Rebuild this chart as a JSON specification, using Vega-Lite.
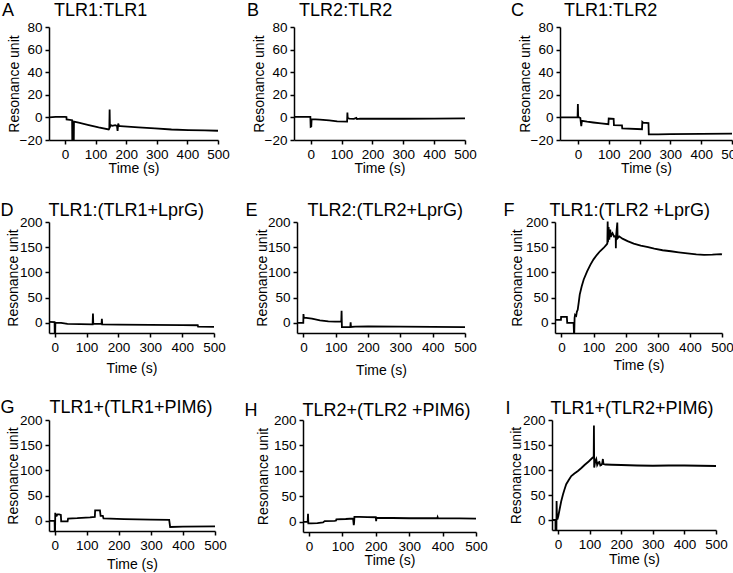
{
  "$schema": "https://vega.github.io/schema/vega-lite/v6.json",
  "padding": {"left": 0, "top": 2, "right": 0, "bottom": 0},
  "background": "white",
  "datasets": {
    "A": [{"t":-52,"v":0},{"t":-30,"v":0.5},{"t":0,"v":0.5},{"t":5,"v":0.3},{"t":5.5,"v":-1.8},{"t":23.5,"v":-2.5},{"t":24,"v":-20},{"t":29,"v":-20},{"t":29.5,"v":-3.8},{"t":45,"v":-4.7},{"t":78,"v":-6.8},{"t":110,"v":-8.9},{"t":143,"v":-10.7},{"t":145,"v":-10},{"t":146,"v":7},{"t":147,"v":-9},{"t":149,"v":-6.8},{"t":155,"v":-7.5},{"t":164,"v":-6.8},{"t":170,"v":-7.5},{"t":172,"v":-12},{"t":174,"v":-5.5},{"t":177,"v":-7.7},{"t":181,"v":-7.7},{"t":240,"v":-8.9},{"t":294,"v":-9.8},{"t":348,"v":-10.7},{"t":403,"v":-11.2},{"t":457,"v":-11.5},{"t":500,"v":-11.8}],
    "B": [{"t":-54,"v":0.5},{"t":-1,"v":0.5},{"t":0,"v":-8.3},{"t":2,"v":-8},{"t":3,"v":-1.5},{"t":30,"v":-2},{"t":60,"v":-2.7},{"t":86,"v":-3.5},{"t":118,"v":-3.8},{"t":119,"v":4.4},{"t":120,"v":-0.5},{"t":125,"v":-1},{"t":140,"v":-1.3},{"t":148,"v":-0.5},{"t":150,"v":-1.5},{"t":160,"v":-1},{"t":200,"v":-1.2},{"t":300,"v":-1.2},{"t":400,"v":-1},{"t":500,"v":-0.8}],
    "C": [{"t":-58,"v":0},{"t":-1,"v":0},{"t":0,"v":11.8},{"t":1,"v":0.5},{"t":8,"v":-0.5},{"t":11,"v":-7.7},{"t":13,"v":-3},{"t":30,"v":-3.8},{"t":50,"v":-4.5},{"t":75,"v":-5.3},{"t":99,"v":-6},{"t":100,"v":-1},{"t":116,"v":-1.2},{"t":117,"v":-6.8},{"t":143,"v":-7},{"t":144,"v":-9.8},{"t":208,"v":-10.5},{"t":209,"v":-4},{"t":212,"v":-4.7},{"t":229,"v":-5},{"t":230,"v":-15.1},{"t":260,"v":-15},{"t":300,"v":-14.8},{"t":400,"v":-14.6},{"t":500,"v":-14.3}],
    "D": [{"t":-18,"v":2},{"t":-0.5,"v":1.5},{"t":0,"v":-20},{"t":1.5,"v":-20},{"t":2,"v":0},{"t":20,"v":0},{"t":40,"v":-2},{"t":80,"v":-2.5},{"t":119,"v":-2.8},{"t":120,"v":18.5},{"t":121,"v":-1.5},{"t":140,"v":-2},{"t":147,"v":-2},{"t":148,"v":8},{"t":149,"v":-3},{"t":200,"v":-3.3},{"t":300,"v":-3.8},{"t":400,"v":-4.2},{"t":449,"v":-4.6},{"t":450,"v":-7.3},{"t":500,"v":-8}],
    "E": [{"t":-20,"v":0},{"t":-0.5,"v":0},{"t":0,"v":17.5},{"t":1,"v":11},{"t":3,"v":10.5},{"t":26,"v":8.4},{"t":51,"v":5.2},{"t":77,"v":3.2},{"t":98,"v":2.6},{"t":117,"v":2.4},{"t":118,"v":24},{"t":119,"v":-8.4},{"t":140,"v":-8.4},{"t":145,"v":-8},{"t":146,"v":1.3},{"t":147,"v":-8},{"t":160,"v":-7.5},{"t":200,"v":-7},{"t":300,"v":-7.3},{"t":400,"v":-7.8},{"t":500,"v":-8.2}],
    "F": [{"t":-20,"v":6},{"t":-1.5,"v":6},{"t":-1,"v":12},{"t":17,"v":12},{"t":18,"v":0},{"t":37,"v":0},{"t":38,"v":-1},{"t":39,"v":-19},{"t":40,"v":-19},{"t":41,"v":10},{"t":42.5,"v":16},{"t":46,"v":14},{"t":48,"v":22},{"t":50.7,"v":26},{"t":53.8,"v":40},{"t":57,"v":56},{"t":63,"v":72},{"t":69.4,"v":86},{"t":80,"v":102},{"t":90,"v":115},{"t":100,"v":126},{"t":110.6,"v":135},{"t":120,"v":142},{"t":131.3,"v":148.5},{"t":141.6,"v":156},{"t":143,"v":158},{"t":144,"v":201},{"t":145,"v":160},{"t":147,"v":190},{"t":149,"v":165},{"t":152,"v":185},{"t":154,"v":170},{"t":156,"v":175},{"t":159,"v":178},{"t":164,"v":171},{"t":169,"v":172},{"t":169.5,"v":148},{"t":170,"v":170},{"t":174,"v":199},{"t":175,"v":168},{"t":180,"v":171.5},{"t":190,"v":167},{"t":206,"v":162},{"t":225,"v":157},{"t":247,"v":153},{"t":270,"v":150},{"t":289,"v":147},{"t":315,"v":144},{"t":341,"v":142},{"t":365,"v":140},{"t":392,"v":138},{"t":420,"v":136},{"t":444,"v":135},{"t":470,"v":135.5},{"t":496,"v":136.5},{"t":500,"v":136}],
    "G": [{"t":-18,"v":0},{"t":-0.5,"v":0},{"t":0,"v":-20},{"t":1,"v":-20},{"t":1.5,"v":16},{"t":3,"v":10},{"t":6,"v":10},{"t":8,"v":13},{"t":13.5,"v":13},{"t":19,"v":12},{"t":20,"v":-1},{"t":40,"v":-1},{"t":41.5,"v":4.7},{"t":70,"v":5.5},{"t":97,"v":6.7},{"t":110,"v":7},{"t":125,"v":8},{"t":126,"v":21},{"t":141,"v":21},{"t":143,"v":10},{"t":150,"v":10},{"t":152,"v":5},{"t":216,"v":3.5},{"t":300,"v":2.5},{"t":357,"v":2},{"t":360,"v":-12},{"t":400,"v":-11.5},{"t":500,"v":-11}],
    "H": [{"t":-18,"v":0},{"t":-4,"v":0},{"t":-3,"v":16},{"t":-2,"v":-3},{"t":7,"v":-3},{"t":25,"v":-2.5},{"t":42,"v":-1.3},{"t":47,"v":1.3},{"t":77,"v":2},{"t":81,"v":2.5},{"t":82,"v":5},{"t":110,"v":5.5},{"t":132,"v":6.4},{"t":134,"v":-6.4},{"t":135,"v":-2},{"t":136,"v":9.6},{"t":150,"v":9.6},{"t":175,"v":9.3},{"t":200,"v":9},{"t":201,"v":1.3},{"t":202,"v":7.7},{"t":250,"v":7.5},{"t":300,"v":7},{"t":384,"v":7},{"t":385,"v":9},{"t":386,"v":7},{"t":450,"v":6.8},{"t":500,"v":6.4}],
    "I": [{"t":-19,"v":0},{"t":-8,"v":0},{"t":-7.9,"v":-20},{"t":-5,"v":-20},{"t":-4.5,"v":38},{"t":-3.5,"v":10},{"t":-2,"v":1},{"t":1,"v":8},{"t":5,"v":21},{"t":10,"v":37},{"t":15.7,"v":51},{"t":20,"v":60},{"t":26,"v":71.5},{"t":34,"v":80},{"t":42,"v":88},{"t":52,"v":93},{"t":63,"v":98},{"t":74,"v":104},{"t":84,"v":110},{"t":97,"v":117},{"t":110,"v":125},{"t":113,"v":127},{"t":113.7,"v":189},{"t":114.5,"v":105},{"t":118,"v":118},{"t":121,"v":122},{"t":124,"v":110},{"t":128,"v":115},{"t":131,"v":116},{"t":134,"v":109},{"t":137,"v":110},{"t":140,"v":113},{"t":142,"v":122},{"t":144,"v":112},{"t":150,"v":111},{"t":170,"v":110.5},{"t":200,"v":110},{"t":250,"v":109},{"t":300,"v":108.5},{"t":350,"v":109},{"t":400,"v":109},{"t":450,"v":108.5},{"t":500,"v":108}]
  },
  "vconcat": [
    {
      "vconcat": [
        {
          "hconcat": [
            {
              "hconcat": [
                {
                  "width": 169, "height": 113,
                  "title": {"text": "A\u00a0\u00a0\u00a0\u00a0\u00a0\u00a0\u00a0\u00a0TLR1:TLR1", "offset": 0, "dx": -5},
                  "data": {"name": "A"},
                  "mark": {"type": "line", "color": "black", "strokeWidth": 1.8},
                  "encoding": {
                    "x": {"field": "t", "type": "quantitative", "scale": {"domain": [-52, 500], "nice": false, "zero": false}, "axis": {"values": [0,100,200,300,400,500], "title": "Time (s)", "titlePadding": 1}},
                    "y": {"field": "v", "type": "quantitative", "scale": {"domain": [-20, 80], "nice": false, "zero": false}, "axis": {"values": [-20,0,20,40,60,80], "title": "Resonance unit", "titlePadding": -2}}
                  }
                },
                {
                  "width": 171, "height": 113,
                  "title": {"text": "B\u00a0\u00a0\u00a0\u00a0\u00a0\u00a0\u00a0\u00a0TLR2:TLR2", "offset": 0, "dx": -5},
                  "data": {"name": "B"},
                  "mark": {"type": "line", "color": "black", "strokeWidth": 1.8},
                  "encoding": {
                    "x": {"field": "t", "type": "quantitative", "scale": {"domain": [-54, 500], "nice": false, "zero": false}, "axis": {"values": [0,100,200,300,400,500], "title": "Time (s)", "titlePadding": 1}},
                    "y": {"field": "v", "type": "quantitative", "scale": {"domain": [-20, 80], "nice": false, "zero": false}, "axis": {"values": [-20,0,20,40,60,80], "title": "Resonance unit", "titlePadding": -2}}
                  }
                }
              ],
              "spacing": 17
            },
            {
              "width": 172, "height": 113,
              "title": {"text": "C\u00a0\u00a0\u00a0\u00a0\u00a0\u00a0\u00a0\u00a0TLR1:TLR2", "offset": 0, "dx": -7},
              "data": {"name": "C"},
              "mark": {"type": "line", "color": "black", "strokeWidth": 1.8},
              "encoding": {
                "x": {"field": "t", "type": "quantitative", "scale": {"domain": [-58, 500], "nice": false, "zero": false}, "axis": {"values": [0,100,200,300,400,500], "title": "Time (s)", "titlePadding": 1}},
                "y": {"field": "v", "type": "quantitative", "scale": {"domain": [-20, 80], "nice": false, "zero": false}, "axis": {"values": [-20,0,20,40,60,80], "title": "Resonance unit", "titlePadding": -2}}
              }
            }
          ],
          "spacing": 34
        },
        {
          "hconcat": [
            {
              "hconcat": [
                {
                  "width": 165, "height": 111,
                  "title": {"text": "D\u00a0\u00a0\u00a0\u00a0\u00a0\u00a0\u00a0TLR1:(TLR1+LprG)", "offset": -5, "dx": -6},
                  "data": {"name": "D"},
                  "mark": {"type": "line", "color": "black", "strokeWidth": 1.8},
                  "encoding": {
                    "x": {"field": "t", "type": "quantitative", "scale": {"domain": [-18, 500], "nice": false, "zero": false}, "axis": {"values": [0,100,200,300,400,500], "title": "Time (s)", "titlePadding": 8}},
                    "y": {"field": "v", "type": "quantitative", "scale": {"domain": [-20, 200], "nice": false, "zero": false}, "axis": {"values": [0,50,100,150,200], "title": "Resonance unit", "titlePadding": -1}}
                  }
                },
                {
                  "width": 168, "height": 111,
                  "title": {"text": "E\u00a0\u00a0\u00a0\u00a0\u00a0\u00a0\u00a0\u00a0\u00a0\u00a0TLR2:(TLR2+LprG)", "offset": -5, "dx": -10},
                  "data": {"name": "E"},
                  "mark": {"type": "line", "color": "black", "strokeWidth": 1.8},
                  "encoding": {
                    "x": {"field": "t", "type": "quantitative", "scale": {"domain": [-20, 500], "nice": false, "zero": false}, "axis": {"values": [0,100,200,300,400,500], "title": "Time (s)", "titlePadding": 10}},
                    "y": {"field": "v", "type": "quantitative", "scale": {"domain": [-20, 200], "nice": false, "zero": false}, "axis": {"values": [0,50,100,150,200], "title": "Resonance unit", "titlePadding": -2}}
                  }
                }
              ],
              "spacing": 19
            },
            {
              "width": 167, "height": 111,
              "title": {"text": "F\u00a0\u00a0\u00a0\u00a0\u00a0\u00a0\u00a0TLR1:(TLR2 +LprG)", "offset": -5, "dx": -7},
              "data": {"name": "F"},
              "mark": {"type": "line", "color": "black", "strokeWidth": 1.8},
              "encoding": {
                "x": {"field": "t", "type": "quantitative", "scale": {"domain": [-20, 500], "nice": false, "zero": false}, "axis": {"values": [0,100,200,300,400,500], "title": "Time (s)", "titlePadding": 5}},
                "y": {"field": "v", "type": "quantitative", "scale": {"domain": [-20, 200], "nice": false, "zero": false}, "axis": {"values": [0,50,100,150,200], "title": "Resonance unit", "titlePadding": 1}}
              }
            }
          ],
          "spacing": 26
        }
      ],
      "spacing": 26
    },
    {
      "hconcat": [
        {
          "hconcat": [
            {
              "width": 166, "height": 111,
              "title": {"text": "G\u00a0\u00a0\u00a0\u00a0\u00a0\u00a0\u00a0TLR1+(TLR1+PIM6)", "offset": -4, "dx": -6},
              "data": {"name": "G"},
              "mark": {"type": "line", "color": "black", "strokeWidth": 1.8},
              "encoding": {
                "x": {"field": "t", "type": "quantitative", "scale": {"domain": [-18, 500], "nice": false, "zero": false}, "axis": {"values": [0,100,200,300,400,500], "title": "Time (s)", "titlePadding": 6}},
                "y": {"field": "v", "type": "quantitative", "scale": {"domain": [-20, 200], "nice": false, "zero": false}, "axis": {"values": [0,50,100,150,200], "title": "Resonance unit", "titlePadding": -1}}
              }
            },
            {
              "width": 173, "height": 112,
              "title": {"text": "H\u00a0\u00a0\u00a0\u00a0\u00a0\u00a0\u00a0\u00a0\u00a0TLR2+(TLR2 +PIM6)", "offset": -7, "dx": -12},
              "data": {"name": "H"},
              "mark": {"type": "line", "color": "black", "strokeWidth": 1.8},
              "encoding": {
                "x": {"field": "t", "type": "quantitative", "scale": {"domain": [-18, 500], "nice": false, "zero": false}, "axis": {"values": [0,100,200,300,400,500], "title": "Time (s)", "titlePadding": 1}},
                "y": {"field": "v", "type": "quantitative", "scale": {"domain": [-20, 200], "nice": false, "zero": false}, "axis": {"values": [0,50,100,150,200], "title": "Resonance unit", "titlePadding": 3}}
              }
            }
          ],
          "spacing": 17
        },
        {
          "width": 164, "height": 110,
          "title": {"text": "I\u00a0\u00a0\u00a0\u00a0\u00a0\u00a0\u00a0\u00a0TLR1+(TLR2+PIM6)", "offset": -5, "dx": -4},
          "data": {"name": "I"},
          "mark": {"type": "line", "color": "black", "strokeWidth": 1.8},
          "encoding": {
            "x": {"field": "t", "type": "quantitative", "scale": {"domain": [-19, 500], "nice": false, "zero": false}, "axis": {"values": [0,100,200,300,400,500], "title": "Time (s)", "titlePadding": 2}},
            "y": {"field": "v", "type": "quantitative", "scale": {"domain": [-20, 200], "nice": false, "zero": false}, "axis": {"values": [0,50,100,150,200], "title": "Resonance unit", "titlePadding": -1}}
          }
        }
      ],
      "spacing": 17
    }
  ],
  "spacing": 21,
  "config": {
    "view": {"stroke": null},
    "font": "Liberation Sans",
    "axis": {"domainColor": "black", "domainWidth": 1.5, "tickColor": "black", "tickWidth": 1.5, "tickSize": 4, "labelFontSize": 13.5, "labelColor": "black", "labelPadding": 3, "labelFlush": false, "labelOverlap": false, "titleFontSize": 14, "titleFontWeight": "normal", "titleColor": "black", "grid": false},
    "axisX": {"titleFontWeight": "normal"},
    "axisY": {"titleFontWeight": "normal"},
    "title": {"fontSize": 18, "fontWeight": "normal", "anchor": "start", "frame": "bounds", "color": "black"}
  }
}
